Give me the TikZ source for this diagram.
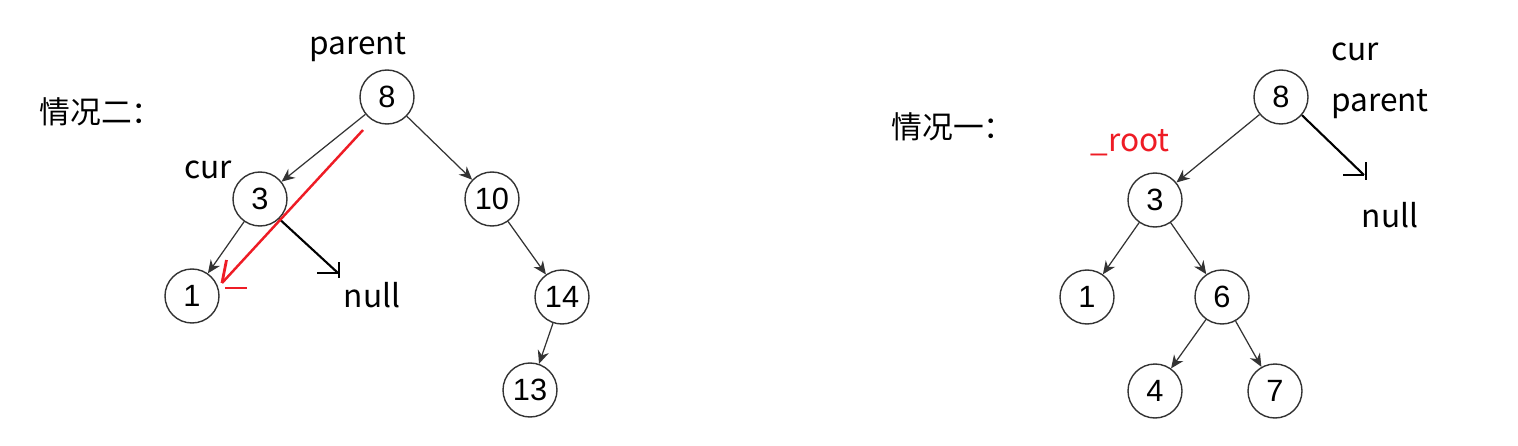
\documentclass[tikz,border=0pt]{standalone}
\usepackage{fontspec}
\setmainfont{Liberation Sans}
\newfontfamily\cjk{Noto Sans CJK SC}
\usepackage{tikz}
\usetikzlibrary{arrows.meta,positioning,calc}
\definecolor{edgegray}{HTML}{333333}
\definecolor{markred}{HTML}{EE1C25}

\begin{document}
\begin{tikzpicture}[
    box/.style={draw=edgegray, circle, line width=0.8pt, minimum size=1.08cm, inner sep=0pt, font=\fontsize{17.5}{18}\selectfont},
    arrow/.style={-{Stealth[length=7.5pt,width=6.5pt]}, draw=edgegray, line width=0.7pt},
    nullarrow/.style={black, line width=1.2pt},
    label/.style={font=\cjk\fontsize{18}{20}\selectfont, inner sep=0pt},
    title/.style={font=\cjk\fontsize{17.5}{19}\selectfont, inner sep=0pt}
]
\useasboundingbox (0,0) rectangle (30.36,-8.92);
% Case two (left tree)
\node[title] (t2) at (2.02,-2.24) {情况二：};
\node[box] (a8) at (7.74,-1.94) {8};
\node[box] (a3) at (5.20,-3.98) {3};
\node[box] (a10) at (9.84,-3.98) {10};
\node[box] (a1) at (3.84,-5.92) {1};
\node[box] (a14) at (11.24,-5.94) {14};
\node[box] (a13) at (10.60,-7.80) {13};

\node[label] (ap) at (7.16,-0.94) {parent};
\node[label] (ac) at (4.16,-3.40) {cur};
\node[label] (an) at (7.44,-5.90) {null};
% Arrows of the left tree
\draw[arrow] (a8) -- (a3);
\draw[arrow] (a8) -- (a10);
\draw[arrow] (a3) -- (a1);
\draw[arrow] (a10) -- (a14);
\draw[arrow] (a14) -- (a13);
% cur->right is null
\coordinate (anull) at (6.76,-5.46);
\draw[nullarrow] (a3.-46) -- (anull);
\draw[nullarrow] ($(anull)+(0.02,0.22)$) -- ($(anull)+(0.02,-0.10)$);
\draw[nullarrow] ($(anull)+(-0.42,0)$) -- (anull);
% red link parent -> cur->left
\coordinate (rs) at (7.26,-2.60);
\coordinate (re) at (4.44,-5.66);
\draw[markred, line width=1.4pt] (rs) -- (re);
\draw[markred, line width=1.6pt] (4.53,-5.20) -- (re);
\draw[markred, line width=1.6pt] (4.50,-5.76) -- (4.94,-5.76);

% Case one (right tree)
\node[title] (t1) at (19.06,-2.54) {情况一：};
\node[box] (b8) at (25.62,-1.94) {8};
\node[box] (b3) at (23.10,-4.00) {3};
\node[box] (b1) at (21.74,-5.94) {1};
\node[box] (b6) at (24.44,-5.94) {6};
\node[box] (b4) at (23.10,-7.82) {4};
\node[box] (b7) at (25.50,-7.82) {7};

\node[label] (bc) at (27.10,-1.04) {cur};
\node[label] (bp) at (27.60,-2.08) {parent};
\node[label, text=markred] (br) at (22.60,-2.86) {\_root};
\node[label] (bn) at (27.80,-4.30) {null};
% Arrows of the right tree
\draw[arrow] (b8) -- (b3);
\draw[arrow] (b3) -- (b1);
\draw[arrow] (b3) -- (b6);
\draw[arrow] (b6) -- (b4);
\draw[arrow] (b6) -- (b7);
% parent->right is null
\coordinate (bnull) at (27.28,-3.50);
\draw[nullarrow] (b8.-41) -- (bnull);
\draw[nullarrow] ($(bnull)+(0.04,0.26)$) -- ($(bnull)+(0.04,-0.10)$);
\draw[nullarrow] ($(bnull)+(-0.42,0)$) -- (bnull);

\end{tikzpicture}
\end{document}
